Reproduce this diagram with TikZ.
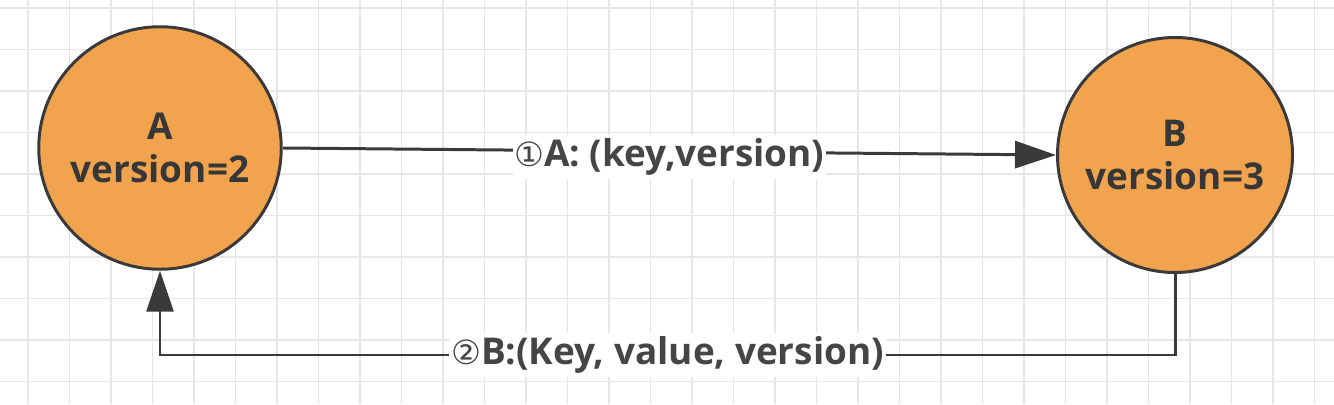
\documentclass[tikz,border=0pt]{standalone}
\usepackage{fontspec}
\setmainfont{Open Sans}[BoldFont={Open Sans Bold}]
\newfontfamily\circfont{DejaVu Sans}
\usetikzlibrary{arrows.meta}
\definecolor{nodeorange}{HTML}{F2A34E}
\definecolor{edgegray}{HTML}{3A3A3A}
\definecolor{textgray}{HTML}{454545}
\definecolor{gridgray}{HTML}{E6E6E6}
\begin{document}
\begin{tikzpicture}
  [font=\bfseries\fontsize{21}{24}\selectfont,
   peer/.style={circle, fill=nodeorange, draw=edgegray, line width=1.7pt,
                align=center, text=textgray!80!black, inner sep=0pt},
   link/.style={draw=edgegray, line width=1.7pt,
                -{Triangle[length=0.82cm, width=0.54cm]}},
   msg/.style={fill=white, text=textgray, inner xsep=1pt, inner ysep=2pt}]

  \useasboundingbox (0,0) rectangle (26.68,8.08);
  \fill[white] (0,0) rectangle (26.68,8.08);
  \foreach \x in {0,...,31}
    \draw[gridgray, line width=0.7pt] (0.56+0.83*\x,0) -- ++(0,8.08);
  \foreach \y in {0,...,9}
    \draw[gridgray, line width=0.7pt] (0,7.92-0.83*\y) -- ++(26.68,0);

  \node[peer, minimum size=4.85cm] (A) at (3.2,5.12) {A\\version=2};
  \node[peer, minimum size=4.7cm] (B) at (23.5,4.98) {B\\version=3};

  \draw[link] (A.east) -- (B.west)
    node[msg, pos=0.5, yshift=-3pt] (m1) {{\circfont\mdseries\fontsize{19}{22}\selectfont ①}A: (key,version)};

  \draw[link] (B.south) -- ++(0,-1.62) -| (A.south)
    node[msg, pos=0.25] (m2) {{\circfont\mdseries\fontsize{19}{22}\selectfont ②}B:(Key, value, version)};
\end{tikzpicture}
\end{document}
